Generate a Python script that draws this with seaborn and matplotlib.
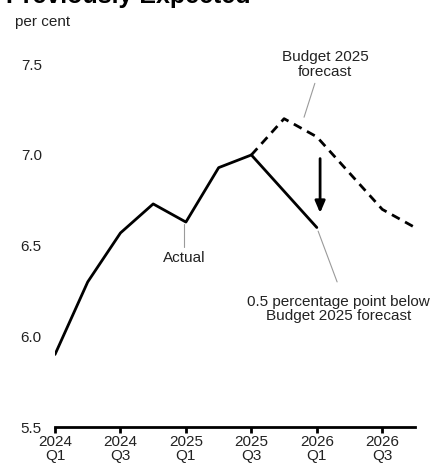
import numpy as np
import pandas as pd
import matplotlib
matplotlib.use("Agg")
import matplotlib.pyplot as plt
import seaborn as sns

# Quarterly positions, 2024 Q1 .. 2026 Q4
quarters = ["2024 Q1", "2024 Q2", "2024 Q3", "2024 Q4",
            "2025 Q1", "2025 Q2", "2025 Q3", "2025 Q4",
            "2026 Q1", "2026 Q2", "2026 Q3", "2026 Q4"]
actual = [5.9, 6.3, 6.57, 6.73, 6.63, 6.93, 7.0, np.nan, 6.6, np.nan, np.nan, np.nan]
budget_forecast = [np.nan, np.nan, np.nan, np.nan, np.nan, np.nan,
                   7.0, 7.2, 7.1, 6.9, 6.7, 6.6]
tick_labels = ["2024\nQ1", "2024\nQ3", "2025\nQ1", "2025\nQ3", "2026\nQ1", "2026\nQ3"]
y_ticks = [5.5, 6.0, 6.5, 7.0, 7.5]
gap_start, gap_end = 6.98, 6.68

sns.set_style("white")
plt.rcParams["font.family"] = ["Liberation Sans", "DejaVu Sans"]

fig = plt.figure(figsize=(4.35, 4.69), dpi=100)
ax = fig.add_axes([55 / 435, 42 / 469, 360 / 435, 399 / 469])

pos = np.arange(len(quarters))
df_act = pd.DataFrame({"q": pos, "v": actual}).dropna()
df_fc = pd.DataFrame({"q": pos, "v": budget_forecast}).dropna()

sns.lineplot(data=df_fc, x="q", y="v", ax=ax, color="black", lw=2.0,
             linestyle=(0, (3.2, 2.2)), estimator=None)
sns.lineplot(data=df_act, x="q", y="v", ax=ax, color="black", lw=2.0,
             estimator=None)

ax.set_xlim(0, 11)
ax.set_ylim(5.5, 7.7)
ax.set_xticks(pos[::2])
ax.set_xticklabels(tick_labels, fontsize=11, linespacing=1.05)
ax.set_yticks(y_ticks)
ax.set_yticklabels([f"{t:.1f}" for t in y_ticks], fontsize=11)
ax.set_xlabel("")
ax.set_ylabel("")
for side in ["top", "right", "left"]:
    ax.spines[side].set_visible(False)
ax.spines["bottom"].set_linewidth(2.0)
ax.spines["bottom"].set_color("black")
ax.tick_params(axis="x", bottom=True, length=4, width=2.0, color="black",
               pad=1.5, labelcolor="#222222")
ax.tick_params(axis="y", left=False, length=0, pad=9.5, labelcolor="#222222")

# Gap arrow between the forecast and the latest reading
ax.annotate("", xy=(8.1, gap_end), xytext=(8.1, gap_start),
            arrowprops=dict(arrowstyle="-|>,head_width=0.3,head_length=0.7",
                            color="black", lw=2.0, shrinkA=0, shrinkB=0))

# Labels with leader lines
lead = dict(color="#9a9a9a", lw=0.8)
ax.text(8.25, 7.50, "Budget 2025\nforecast", ha="center", va="center",
        fontsize=11, color="#222222", linespacing=1.05)
ax.plot([7.94, 7.61], [7.395, 7.208], **lead)

ax.text(3.94, 6.43, "Actual", ha="center", va="center",
        fontsize=11, color="#222222")
ax.plot([3.94, 3.94], [6.62, 6.49], **lead)

ax.text(8.66, 6.15, "0.5 percentage point below\nBudget 2025 forecast",
        ha="center", va="center", fontsize=11, color="#222222", linespacing=1.05)
ax.plot([8.04, 8.62], [6.58, 6.30], **lead)

fig.text(15 / 435, 1 - 22 / 469, "per cent", ha="left", va="center",
         fontsize=11, color="#222222")
fig.text(6 / 435, 1 - 3 / 469, "Previously Expected", ha="left", va="baseline",
         fontsize=18, fontweight="bold", color="black")

fig.savefig("out.png", dpi=100)
